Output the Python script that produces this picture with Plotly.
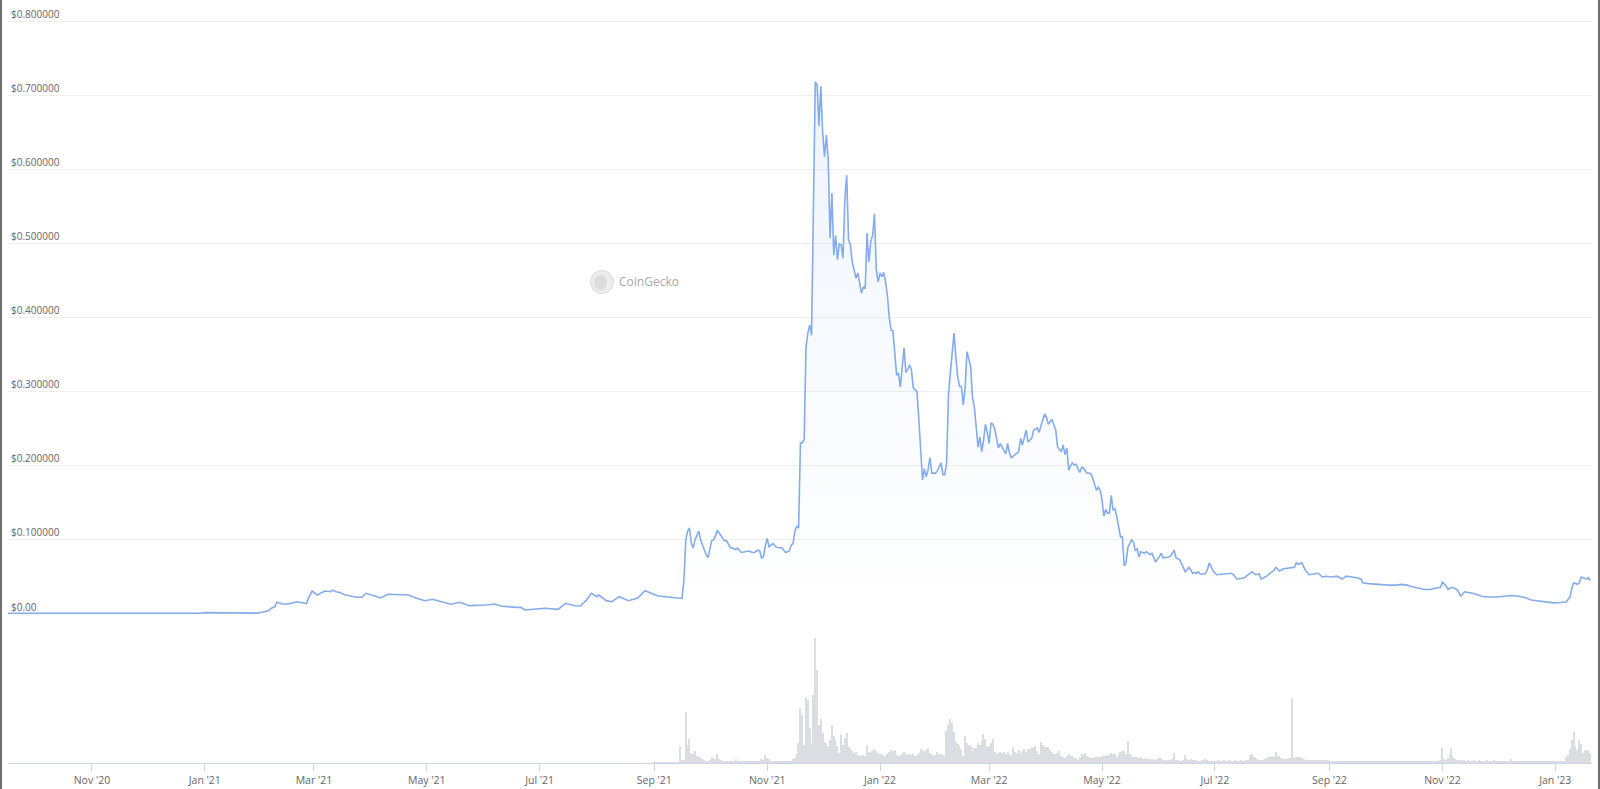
import pandas as pd
import plotly.graph_objects as go

# ---------------- price (USD) ----------------
PRICE_DATES = [
    "2020-09-16", "2020-10-01", "2020-10-15", "2020-11-01", "2020-11-15", "2020-12-01", "2020-12-15", "2020-12-30",
    "2021-01-01", "2021-01-10", "2021-01-20", "2021-01-29", "2021-02-01", "2021-02-04", "2021-02-06", "2021-02-08",
    "2021-02-09", "2021-02-12", "2021-02-15", "2021-02-18", "2021-02-20", "2021-02-24", "2021-02-25", "2021-02-26",
    "2021-02-28", "2021-03-02", "2021-03-03", "2021-03-05", "2021-03-07", "2021-03-10", "2021-03-11", "2021-03-13",
    "2021-03-15", "2021-03-18", "2021-03-24", "2021-03-27", "2021-03-29", "2021-04-03", "2021-04-06", "2021-04-10",
    "2021-04-15", "2021-04-21", "2021-04-26", "2021-04-30", "2021-05-04", "2021-05-09", "2021-05-14", "2021-05-19",
    "2021-05-24", "2021-05-27", "2021-06-02", "2021-06-07", "2021-06-10", "2021-06-18", "2021-06-21", "2021-06-23",
    "2021-06-29", "2021-07-04", "2021-07-11", "2021-07-15", "2021-07-20", "2021-07-23", "2021-07-26", "2021-07-29",
    "2021-08-01", "2021-08-02", "2021-08-06", "2021-08-09", "2021-08-13", "2021-08-18", "2021-08-23", "2021-08-27",
    "2021-09-03", "2021-09-09", "2021-09-12", "2021-09-16", "2021-09-17", "2021-09-18", "2021-09-19", "2021-09-20",
    "2021-09-21", "2021-09-22", "2021-09-23", "2021-09-24", "2021-09-25", "2021-09-26", "2021-09-27", "2021-09-28",
    "2021-09-29", "2021-09-30", "2021-10-01", "2021-10-02", "2021-10-03", "2021-10-04", "2021-10-05", "2021-10-06",
    "2021-10-07", "2021-10-08", "2021-10-09", "2021-10-10", "2021-10-11", "2021-10-12", "2021-10-13", "2021-10-15",
    "2021-10-16", "2021-10-18", "2021-10-20", "2021-10-22", "2021-10-24", "2021-10-25", "2021-10-27", "2021-10-28",
    "2021-10-29", "2021-10-30", "2021-10-31", "2021-11-01", "2021-11-02", "2021-11-03", "2021-11-04", "2021-11-06",
    "2021-11-08", "2021-11-09", "2021-11-11", "2021-11-12", "2021-11-13", "2021-11-14", "2021-11-15", "2021-11-16",
    "2021-11-17", "2021-11-18", "2021-11-19", "2021-11-20", "2021-11-21", "2021-11-22", "2021-11-23", "2021-11-24",
    "2021-11-25", "2021-11-27", "2021-11-28", "2021-11-29", "2021-11-30", "2021-12-01", "2021-12-02", "2021-12-03",
    "2021-12-04", "2021-12-05", "2021-12-06", "2021-12-07", "2021-12-08", "2021-12-09", "2021-12-10", "2021-12-11",
    "2021-12-12", "2021-12-13", "2021-12-14", "2021-12-15", "2021-12-16", "2021-12-17", "2021-12-18", "2021-12-19",
    "2021-12-20", "2021-12-21", "2021-12-22", "2021-12-23", "2021-12-24", "2021-12-25", "2021-12-26", "2021-12-27",
    "2021-12-28", "2021-12-29", "2021-12-30", "2021-12-31", "2022-01-01", "2022-01-02", "2022-01-03", "2022-01-04",
    "2022-01-05", "2022-01-06", "2022-01-07", "2022-01-08", "2022-01-09", "2022-01-10", "2022-01-11", "2022-01-12",
    "2022-01-13", "2022-01-14", "2022-01-15", "2022-01-16", "2022-01-17", "2022-01-18", "2022-01-19", "2022-01-21",
    "2022-01-22", "2022-01-23", "2022-01-24", "2022-01-25", "2022-01-26", "2022-01-27", "2022-01-28", "2022-01-29",
    "2022-01-31", "2022-02-01", "2022-02-03", "2022-02-04", "2022-02-05", "2022-02-06", "2022-02-07", "2022-02-08",
    "2022-02-10", "2022-02-11", "2022-02-12", "2022-02-13", "2022-02-14", "2022-02-15", "2022-02-16", "2022-02-17",
    "2022-02-18", "2022-02-19", "2022-02-20", "2022-02-21", "2022-02-22", "2022-02-23", "2022-02-24", "2022-02-25",
    "2022-02-26", "2022-02-27", "2022-02-28", "2022-03-01", "2022-03-02", "2022-03-03", "2022-03-04", "2022-03-05",
    "2022-03-06", "2022-03-07", "2022-03-08", "2022-03-09", "2022-03-10", "2022-03-11", "2022-03-12", "2022-03-13",
    "2022-03-14", "2022-03-15", "2022-03-16", "2022-03-17", "2022-03-18", "2022-03-19", "2022-03-20", "2022-03-21",
    "2022-03-22", "2022-03-23", "2022-03-24", "2022-03-25", "2022-03-26", "2022-03-27", "2022-03-28", "2022-03-29",
    "2022-03-30", "2022-03-31", "2022-04-01", "2022-04-02", "2022-04-03", "2022-04-04", "2022-04-05", "2022-04-06",
    "2022-04-07", "2022-04-08", "2022-04-09", "2022-04-10", "2022-04-11", "2022-04-12", "2022-04-13", "2022-04-14",
    "2022-04-15", "2022-04-16", "2022-04-17", "2022-04-18", "2022-04-19", "2022-04-20", "2022-04-21", "2022-04-22",
    "2022-04-23", "2022-04-24", "2022-04-25", "2022-04-26", "2022-04-27", "2022-04-28", "2022-04-29", "2022-04-30",
    "2022-05-01", "2022-05-02", "2022-05-03", "2022-05-04", "2022-05-05", "2022-05-06", "2022-05-07", "2022-05-08",
    "2022-05-09", "2022-05-10", "2022-05-11", "2022-05-12", "2022-05-13", "2022-05-14", "2022-05-15", "2022-05-16",
    "2022-05-17", "2022-05-18", "2022-05-19", "2022-05-20", "2022-05-21", "2022-05-22", "2022-05-23", "2022-05-24",
    "2022-05-25", "2022-05-26", "2022-05-27", "2022-05-28", "2022-05-29", "2022-05-30", "2022-05-31", "2022-06-01",
    "2022-06-02", "2022-06-03", "2022-06-04", "2022-06-05", "2022-06-06", "2022-06-07", "2022-06-08", "2022-06-09",
    "2022-06-10", "2022-06-11", "2022-06-12", "2022-06-13", "2022-06-14", "2022-06-15", "2022-06-16", "2022-06-17",
    "2022-06-18", "2022-06-19", "2022-06-20", "2022-06-21", "2022-06-22", "2022-06-23", "2022-06-25", "2022-06-26",
    "2022-06-27", "2022-06-28", "2022-06-29", "2022-06-30", "2022-07-02", "2022-07-05", "2022-07-07", "2022-07-10",
    "2022-07-11", "2022-07-13", "2022-07-17", "2022-07-19", "2022-07-21", "2022-07-23", "2022-07-25", "2022-07-26",
    "2022-07-29", "2022-07-31", "2022-08-02", "2022-08-03", "2022-08-05", "2022-08-07", "2022-08-10", "2022-08-13",
    "2022-08-14", "2022-08-15", "2022-08-17", "2022-08-19", "2022-08-21", "2022-08-23", "2022-08-26", "2022-08-28",
    "2022-08-30", "2022-09-02", "2022-09-05", "2022-09-08", "2022-09-10", "2022-09-13", "2022-09-16", "2022-09-18",
    "2022-09-19", "2022-09-22", "2022-09-26", "2022-09-29", "2022-10-03", "2022-10-07", "2022-10-10", "2022-10-13",
    "2022-10-15", "2022-10-19", "2022-10-22", "2022-10-25", "2022-10-28", "2022-10-31", "2022-11-01", "2022-11-02",
    "2022-11-03", "2022-11-04", "2022-11-06", "2022-11-07", "2022-11-09", "2022-11-11", "2022-11-13", "2022-11-15",
    "2022-11-19", "2022-11-22", "2022-11-26", "2022-12-01", "2022-12-05", "2022-12-08", "2022-12-12", "2022-12-16",
    "2022-12-19", "2022-12-23", "2022-12-27", "2022-12-31", "2023-01-04", "2023-01-07", "2023-01-09", "2023-01-10",
    "2023-01-11", "2023-01-12", "2023-01-13", "2023-01-14", "2023-01-15", "2023-01-16", "2023-01-17", "2023-01-18",
    "2023-01-19", "2023-01-20",
]
PRICE_USD = [
    0.0010, 0.0009, 0.0009, 0.0008, 0.0008, 0.0009, 0.0009, 0.0010,
    0.0018, 0.0015, 0.0013, 0.0012, 0.0023, 0.0040, 0.0077, 0.0100,
    0.0158, 0.0135, 0.0135, 0.0150, 0.0166, 0.0144, 0.0140, 0.0210,
    0.0310, 0.0270, 0.0256, 0.0288, 0.0310, 0.0300, 0.0320, 0.0300,
    0.0290, 0.0256, 0.0225, 0.0225, 0.0279, 0.0243, 0.0216, 0.0266,
    0.0258, 0.0256, 0.0210, 0.0179, 0.0198, 0.0166, 0.0131, 0.0158,
    0.0112, 0.0117, 0.0121, 0.0135, 0.0108, 0.0090, 0.0090, 0.0054,
    0.0067, 0.0077, 0.0063, 0.0144, 0.0112, 0.0108, 0.0180, 0.0279,
    0.0234, 0.0256, 0.0180, 0.0166, 0.0234, 0.0180, 0.0216, 0.0314,
    0.0243, 0.0229, 0.0220, 0.0210, 0.0460, 0.1000, 0.1120, 0.1160,
    0.0950, 0.0890, 0.1000, 0.1050, 0.1120, 0.1000, 0.0930, 0.0860,
    0.0800, 0.0760, 0.0900, 0.0990, 0.1000, 0.1050, 0.1130, 0.1100,
    0.1060, 0.1020, 0.0990, 0.0990, 0.0950, 0.0900, 0.0890, 0.0870,
    0.0890, 0.0830, 0.0840, 0.0850, 0.0830, 0.0830, 0.0860, 0.0850,
    0.0750, 0.0780, 0.0920, 0.1020, 0.0910, 0.0930, 0.0950, 0.0900,
    0.0890, 0.0890, 0.0830, 0.0840, 0.0850, 0.0930, 0.0950, 0.1120,
    0.1180, 0.1160, 0.2310, 0.2310, 0.2350, 0.3600, 0.3790, 0.3900,
    0.3760, 0.7180, 0.7140, 0.6580, 0.7120, 0.6500, 0.6170, 0.6460,
    0.6130, 0.5070, 0.5680, 0.4840, 0.5110, 0.4780, 0.5000, 0.4980,
    0.4800, 0.5590, 0.5920, 0.5050, 0.4980, 0.4750, 0.4650, 0.4530,
    0.4600, 0.4470, 0.4330, 0.4410, 0.4400, 0.5140, 0.4750, 0.5020,
    0.5110, 0.5400, 0.4640, 0.4480, 0.4600, 0.4550, 0.4610, 0.4480,
    0.4300, 0.4000, 0.3830, 0.3820, 0.3450, 0.3220, 0.3250, 0.3060,
    0.3330, 0.3590, 0.3260, 0.3300, 0.3360, 0.3290, 0.3050, 0.3000,
    0.2620, 0.2200, 0.1810, 0.1960, 0.1850, 0.1950, 0.2110, 0.1900,
    0.1900, 0.1930, 0.2040, 0.1880, 0.1880, 0.2040, 0.2960, 0.3250,
    0.3790, 0.3470, 0.3200, 0.3070, 0.3070, 0.2820, 0.3050, 0.3540,
    0.3450, 0.3340, 0.2920, 0.2790, 0.2520, 0.2250, 0.2390, 0.2190,
    0.2350, 0.2560, 0.2450, 0.2300, 0.2580, 0.2560, 0.2500, 0.2390,
    0.2240, 0.2300, 0.2250, 0.2190, 0.2160, 0.2300, 0.2170, 0.2110,
    0.2130, 0.2140, 0.2160, 0.2190, 0.2370, 0.2280, 0.2380, 0.2480,
    0.2320, 0.2350, 0.2370, 0.2480, 0.2500, 0.2510, 0.2450, 0.2550,
    0.2620, 0.2700, 0.2650, 0.2560, 0.2600, 0.2620, 0.2550, 0.2480,
    0.2250, 0.2220, 0.2190, 0.2280, 0.2150, 0.2240, 0.1940, 0.2000,
    0.2040, 0.2010, 0.2020, 0.1960, 0.1910, 0.1980, 0.1970, 0.1930,
    0.1900, 0.1900, 0.1890, 0.1830, 0.1750, 0.1670, 0.1710, 0.1670,
    0.1540, 0.1320, 0.1410, 0.1360, 0.1360, 0.1600, 0.1400, 0.1420,
    0.1310, 0.1170, 0.1040, 0.1040, 0.0650, 0.0690, 0.0900, 0.0950,
    0.1000, 0.0970, 0.0860, 0.0880, 0.0770, 0.0840, 0.0830, 0.0820,
    0.0840, 0.0820, 0.0800, 0.0820, 0.0760, 0.0700, 0.0740, 0.0770,
    0.0820, 0.0760, 0.0760, 0.0760, 0.0770, 0.0780, 0.0820, 0.0860,
    0.0760, 0.0750, 0.0730, 0.0680, 0.0630, 0.0570, 0.0600, 0.0630,
    0.0590, 0.0550, 0.0560, 0.0550, 0.0570, 0.0540, 0.0540, 0.0550,
    0.0600, 0.0690, 0.0640, 0.0580, 0.0530, 0.0540, 0.0550, 0.0550,
    0.0530, 0.0470, 0.0490, 0.0530, 0.0570, 0.0530, 0.0540, 0.0470,
    0.0510, 0.0550, 0.0590, 0.0630, 0.0580, 0.0610, 0.0620, 0.0630,
    0.0690, 0.0670, 0.0690, 0.0590, 0.0530, 0.0540, 0.0550, 0.0500,
    0.0510, 0.0500, 0.0510, 0.0470, 0.0510, 0.0500, 0.0490, 0.0470,
    0.0420, 0.0410, 0.0400, 0.0390, 0.0390, 0.0390, 0.0400, 0.0390,
    0.0370, 0.0350, 0.0330, 0.0330, 0.0340, 0.0360, 0.0430, 0.0400,
    0.0380, 0.0330, 0.0360, 0.0350, 0.0330, 0.0240, 0.0300, 0.0290,
    0.0270, 0.0240, 0.0230, 0.0230, 0.0240, 0.0250, 0.0240, 0.0220,
    0.0190, 0.0175, 0.0165, 0.0150, 0.0155, 0.0165, 0.0230, 0.0350,
    0.0420, 0.0410, 0.0400, 0.0420, 0.0500, 0.0490, 0.0480, 0.0470,
    0.0490, 0.0450,
]

# ---------------- daily trading volume (relative units) ----------------
VOLUME_START = "2021-09-01"
VOLUME = [
    # Sep 2021
    0.4, 0.4, 0.4, 0.4, 0.4, 0.4, 0.4, 0.4, 0.4, 0.4, 0.4, 0.4, 0.4, 0.4, 17, 3, 3, 51, 18, 24, 10, 9, 12, 7, 6, 6, 4, 3, 2.5, 2,
    # Oct 2021
    3, 6, 5, 4, 9, 4, 3, 2.5, 2.5, 2, 2.5, 2, 2.5, 2, 4, 1.5, 1.3, 1.5, 1.3, 1.5, 1.3, 1.5, 1.3, 1.5, 1.3, 1.5, 2, 2, 4, 3, 8,
    # Nov 2021
    5, 4, 2, 1.7, 1.7, 1.5, 1.7, 1.5, 1.7, 1.5, 1.7, 1.7, 2, 2, 4, 5, 9, 20, 55, 48, 18, 66, 63, 35, 20, 68, 125, 93, 38, 44,
    # Dec 2021
    30, 21, 20, 17, 23, 38, 27, 23, 17, 10, 28, 18, 25, 30, 17, 15, 12, 10, 11, 8, 7, 7, 8, 7, 18, 11, 10, 12, 14, 12, 10,
    # Jan 2022
    9, 9, 7, 7, 9, 11, 13, 12, 13, 8, 7, 7, 9, 11, 9, 8, 9, 8, 9, 7, 8, 10, 14, 14, 12, 13, 15, 10, 9, 7, 8,
    # Feb 2022
    11, 9, 9, 8, 7, 32, 38, 44, 40, 31, 21, 19, 17, 14, 7, 27, 20, 18, 17, 12, 15, 15, 20, 18, 22, 29, 24, 16,
    # Mar 2022
    17, 20, 24, 11, 9, 10, 11, 10, 11, 9, 11, 9, 8, 16, 11, 10, 13, 9, 12, 14, 11, 14, 14, 16, 15, 17, 12, 9, 21, 18, 16,
    # Apr 2022
    16, 16, 13, 11, 9, 9, 10, 12, 7, 6, 5, 7, 9, 7, 7, 5, 5, 3, 6, 9, 8, 10, 7, 6, 5, 5, 6, 6, 6, 6,
    # May 2022
    7, 7, 7, 8, 8, 10, 9, 9, 6, 8, 11, 12, 12, 9, 22, 9, 8, 6, 6, 6, 5, 6, 4, 4, 5, 4, 4, 4, 3, 3, 4,
    # Jun 2022
    5, 5, 3, 3, 2, 3, 3, 4, 10, 3, 3, 2, 2, 3, 8, 4, 3, 4, 3, 3, 3, 2, 2, 3, 3, 4, 3, 2, 2, 2,
    # Jul 2022
    2, 2, 3, 2, 2, 3, 2, 2, 3, 2, 2, 3, 2, 2, 3, 2, 2, 3, 3, 8, 9, 6, 6, 4, 3, 3, 3, 4, 5, 6, 6,
    # Aug 2022
    7, 6, 11, 7, 7, 5, 4, 4, 4, 5, 5, 65, 5, 6, 6, 6, 5, 4, 3, 3, 3, 3, 3, 3, 3, 3, 3, 3, 3, 3, 3,
    # Sep 2022
    2, 2, 2.5, 2, 2, 2, 2.5, 2, 2, 2, 2.5, 2, 2, 2, 2, 2.5, 2, 2, 2, 2, 2.5, 2, 2, 2, 2, 2, 2.5, 2, 2, 2,
    # Oct 2022
    2, 2, 2, 2.5, 2, 2, 2, 2, 2.5, 2, 2, 2, 2, 2, 2.5, 2, 2, 2, 2, 2, 2.5, 2, 2, 2, 2, 2, 2.5, 2, 2, 2, 3,
    # Nov 2022
    15, 4, 3, 5, 8, 15, 6, 4, 3, 3, 3, 2.5, 3, 2.5, 3, 2.5, 2.5, 3, 2.5, 2.5, 3, 2.5, 2.5, 2.5, 3, 2.5, 2.5, 2.5, 3, 2.5,
    # Dec 2022
    2, 2, 2, 2, 2, 2, 2, 4, 1.5, 1.3, 1.3, 1.3, 1.5, 1.3, 1.3, 1.3, 1.5, 1.3, 1.3, 1.3, 1.5, 1.3, 1.3, 1.3, 1.5, 1.3, 1.3, 1.3, 1.5, 1.3, 1.3,
    # Jan 2023
    1.3, 1.3, 1.5, 1.3, 1.3, 2, 6, 8, 14, 23, 31, 17, 13, 23, 19, 10, 13, 12, 13, 10,
]

TICK_DATES = ["2020-11-01", "2021-01-01", "2021-03-01", "2021-05-01", "2021-07-01", "2021-09-01",
              "2021-11-01", "2022-01-01", "2022-03-01", "2022-05-01", "2022-07-01", "2022-09-01",
              "2022-11-01", "2023-01-01"]
TICK_LABELS = ["Nov '20", "Jan '21", "Mar '21", "May '21", "Jul '21", "Sep '21", "Nov '21", "Jan '22",
               "Mar '22", "May '22", "Jul '22", "Sep '22", "Nov '22", "Jan '23"]
PRICE_TICKS = [0.0, 0.1, 0.2, 0.3, 0.4, 0.5, 0.6, 0.7, 0.8]
PRICE_TICK_LABELS = ["$0.00", "$0.100000", "$0.200000", "$0.300000", "$0.400000",
                     "$0.500000", "$0.600000", "$0.700000", "$0.800000"]

vol_dates = pd.date_range(VOLUME_START, periods=len(VOLUME), freq="D")

LINE = "rgb(133,172,234)"
FONT = "Open Sans, Noto Sans, Arial, sans-serif"

fig = go.Figure()
fig.add_trace(go.Bar(
    x=vol_dates, y=VOLUME, yaxis="y",
    width=0.7 * 86400000,
    marker=dict(color="#dcdde2", line=dict(width=0)),
    hoverinfo="skip",
))
fig.add_trace(go.Scatter(
    x=pd.to_datetime(PRICE_DATES), y=PRICE_USD, yaxis="y2",
    mode="lines",
    line=dict(color=LINE, width=1.6),
    fill="tozeroy",
    fillgradient=dict(type="vertical",
                      colorscale=[[0, "rgba(133,172,234,0.0)"], [1, "rgba(133,172,234,0.13)"]]),
    hoverinfo="x+y",
))

W, H = 1600, 789
ML, MR, MT, MB = 8, 8, 0, 26
pw = W - ML - MR
ph = H - MT - MB


def px_x(px):
    return (px - ML) / pw


def px_y(py):
    return (H - MB - py) / ph


shapes = [
    dict(type="line", xref="paper", yref="paper", x0=px_x(1), x1=px_x(1), y0=px_y(H), y1=px_y(0),
         line=dict(color="#707070", width=2)),
    dict(type="line", xref="paper", yref="paper", x0=px_x(W - 1), x1=px_x(W - 1), y0=px_y(H), y1=px_y(0),
         line=dict(color="#707070", width=2)),
    dict(type="circle", xref="paper", yref="paper", x0=px_x(590.5), x1=px_x(613.5), y0=px_y(293.5), y1=px_y(270.5),
         fillcolor="#ececec", line=dict(color="#dadada", width=1), layer="below"),
    dict(type="circle", xref="paper", yref="paper", x0=px_x(594), x1=px_x(607), y0=px_y(290), y1=px_y(275),
         fillcolor="#dcdcdc", line=dict(width=0), layer="below"),
]

fig.update_layout(
    width=W, height=H,
    margin=dict(l=ML, r=MR, t=MT, b=MB, pad=0),
    paper_bgcolor="white", plot_bgcolor="white",
    showlegend=False,
    bargap=0,
    font=dict(family=FONT, color="#666666"),
    xaxis=dict(
        type="date",
        range=["2020-09-16 15:00", "2023-01-20 21:00"],
        tickvals=TICK_DATES, ticktext=TICK_LABELS,
        ticks="outside", ticklen=7, tickwidth=1, tickcolor="#ccd6eb",
        showline=True, linecolor="#ccd6eb", linewidth=1,
        showgrid=False, zeroline=False,
        tickfont=dict(size=10.5, color="#666666", family=FONT),
        anchor="y",
    ),
    yaxis=dict(
        domain=[0, px_y(625)], range=[0, 138],
        showgrid=False, zeroline=False, showticklabels=False, showline=False, ticks="",
    ),
    yaxis2=dict(
        domain=[px_y(614), px_y(0)], range=[0, 0.8 * (614 - 0) / (614 - 21)],
        tickvals=PRICE_TICKS, ticktext=PRICE_TICK_LABELS,
        ticklabelposition="inside top",
        tickfont=dict(size=10, color="#666666", family=FONT),
        showgrid=True, gridcolor="#efefef", gridwidth=1,
        zeroline=False, showline=False, ticks="",
        anchor="x",
    ),
    shapes=shapes,
    annotations=[dict(
        text="CoinGecko", xref="paper", yref="paper", x=px_x(617), y=px_y(282),
        xanchor="left", yanchor="middle", showarrow=False,
        font=dict(size=12, color="#a8a8a8", family=FONT),
    )],
)

fig.write_html(
    "out.html",
    config={"displayModeBar": False},
    post_script="document.body.style.margin='0';document.body.style.overflow='hidden';",
)
